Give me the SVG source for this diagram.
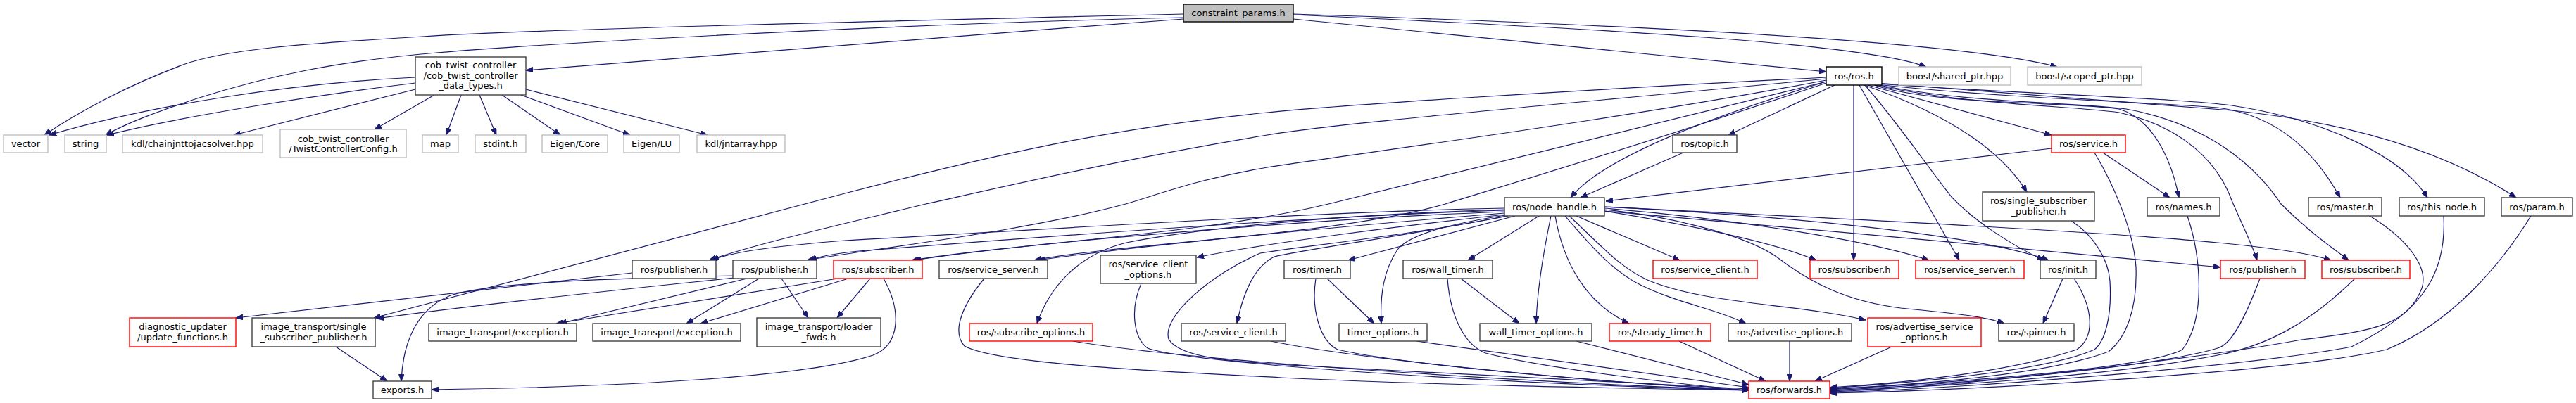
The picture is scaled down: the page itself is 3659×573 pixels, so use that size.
<svg xmlns="http://www.w3.org/2000/svg" width="3659" height="573" viewBox="0 0 3659 573">
<defs>
<marker id="ah" viewBox="0 0 10 8" refX="10" refY="4" markerWidth="10" markerHeight="8" markerUnits="userSpaceOnUse" orient="auto"><path d="M0,0L10,4L0,8z" fill="#191970" stroke="#191970" stroke-width="0.8"/></marker>
<style>
.n rect{fill:#fff;stroke:#404040;stroke-width:1.4}
.g rect{fill:#fff;stroke:#bfbfbf;stroke-width:1.4}
.r rect{fill:#fff;stroke:#ff0000;stroke-width:1.4}
.root rect{fill:#bfbfbf;stroke:#000;stroke-width:1.4}
text{font-family:"DejaVu Sans","Liberation Sans",sans-serif;font-size:13px;text-anchor:middle;fill:#000}
#edges path{fill:none;stroke:#191970;stroke-width:1.2;marker-end:url(#ah)}
</style>
</defs>
<rect width="3659" height="573" fill="#fff"/>
<g id="edges">
<path d="M1681,20 C1250,30 750,42 600,52 C430,62 320,70 260,92 C180,122 110,160 63,192"/>
<path d="M1681,25 C1300,33 800,60 620,75 C480,87 380,108 280,140 C220,160 180,175 150,192"/>
<path d="M1681,27 C1350,52 1000,78 747,100"/>
<path d="M1837,27 L2594,102"/>
<path d="M1837,21 C2300,42 2650,62 2736,95"/>
<path d="M1837,20 C2400,38 2800,62 2922,95"/>
<path d="M590,110 C420,118 220,148 70,192"/>
<path d="M590,118 C450,135 260,165 152,192"/>
<path d="M590,127 L332,192"/>
<path d="M617,135 L532,184"/>
<path d="M655,135 L634,192"/>
<path d="M681,135 L705,192"/>
<path d="M713,135 L796,192"/>
<path d="M740,135 L895,192"/>
<path d="M747,127 L1005,192"/>
<path d="M2606,121 L2455,192"/>
<path d="M2594,116 C2450,160 2280,220 2231,281"/>
<path d="M2653,121 L2914,192"/>
<path d="M2648,121 C2760,160 2840,210 2879,273"/>
<path d="M2633,121 L2633,370"/>
<path d="M2641,121 L2783,370"/>
<path d="M2649,121 C2700,180 2740,240 2772,280 C2800,310 2850,345 2903,370"/>
<path d="M2662,121 C2750,150 2950,145 3010,155 C3060,170 3085,230 3095,281"/>
<path d="M2663,121 C2800,150 2940,150 3010,160 C3100,180 3150,230 3170,285 C3185,320 3198,345 3206,370"/>
<path d="M2664,120 C2800,148 2950,145 3020,155 C3130,175 3200,230 3240,290 C3280,330 3310,350 3336,370"/>
<path d="M2665,120 C2850,140 3050,145 3150,153 C3240,165 3290,220 3324,281"/>
<path d="M2666,119 C2900,135 3100,140 3170,150 C3300,170 3410,220 3448,281"/>
<path d="M2667,118 C2950,140 3100,150 3170,157 C3350,175 3480,220 3574,281"/>
<path d="M2594,110 C2200,130 1900,150 1800,160 C1600,180 1450,210 1200,275 L531,452"/>
<path d="M2594,112 C2200,150 1900,175 1800,192 C1600,225 1450,260 1315,290 C1200,318 1080,345 1007,370"/>
<path d="M2594,114 C2300,170 1950,215 1800,238 C1700,255 1650,275 1599,290 C1450,330 1250,352 1146,370"/>
<path d="M2594,116 C2300,190 2000,262 1887,290 C1700,335 1450,345 1295,370"/>
<path d="M2594,118 C2350,200 2150,260 2053,290 C1900,335 1600,345 1469,370"/>
<path d="M2137,296 C1900,300 1500,325 1200,342 C1100,350 1040,358 1011,370"/>
<path d="M2137,299 C1900,306 1500,335 1220,357 C1190,360 1165,364 1150,370"/>
<path d="M2137,301 C1900,310 1500,340 1298,370"/>
<path d="M2137,303 C1950,318 1650,345 1474,370"/>
<path d="M2138,305 C2000,320 1800,345 1700,366"/>
<path d="M2138,298 C1900,305 1700,325 1600,345 C1530,362 1490,410 1473,460"/>
<path d="M2140,307 C2000,335 1850,355 1810,365 C1780,380 1765,420 1757,460"/>
<path d="M2142,307 C2000,335 1850,350 1790,360 C1720,390 1650,450 1660,482 C1675,510 1760,515 1850,520 C2100,532 2350,545 2484,553"/>
<path d="M2138,306 C2050,320 2000,335 1985,355 C1965,385 1960,420 1962,460"/>
<path d="M2152,307 L1915,370"/>
<path d="M2186,307 L2085,370"/>
<path d="M2203,307 C2192,360 2183,420 2182,460"/>
<path d="M2209,307 C2220,370 2250,430 2314,460"/>
<path d="M2239,307 L2386,370"/>
<path d="M2223,307 C2260,350 2290,385 2330,405 C2380,430 2440,440 2480,460"/>
<path d="M2229,307 C2270,345 2300,380 2340,398 C2420,432 2550,432 2650,455"/>
<path d="M2279,298 C2350,305 2480,330 2530,370 C2570,400 2620,428 2700,438 C2780,446 2820,450 2847,460"/>
<path d="M2279,300 C2400,320 2520,345 2580,370"/>
<path d="M2279,296 C2450,310 2650,340 2740,370"/>
<path d="M2279,294 C2500,305 2800,330 2910,370"/>
<path d="M2279,300 C2500,320 2900,355 3154,380"/>
<path d="M2279,294 C2600,310 3000,330 3150,345 C3230,353 3280,360 3311,370"/>
<path d="M1885,396 L1952,460"/>
<path d="M2075,396 L2158,460"/>
<path d="M2930,396 L2902,460"/>
<path d="M2914,211 L2281,286"/>
<path d="M2987,217 L3082,281"/>
<path d="M2391,217 L2245,281"/>
<path d="M898,388 L335,452"/>
<path d="M1061,396 L795,460"/>
<path d="M1078,396 L975,460"/>
<path d="M1110,396 L1148,452"/>
<path d="M1043,395 C900,410 700,430 535,453"/>
<path d="M1045,392 C900,395 700,400 640,420 C590,440 572,490 570,542"/>
<path d="M1190,396 L790,460"/>
<path d="M1205,396 L995,460"/>
<path d="M1236,396 L1189,452"/>
<path d="M1255,396 C1280,440 1280,490 1240,505 C1150,535 900,550 613,554"/>
<path d="M477,493 L550,542"/>
<path d="M1398,396 C1370,430 1350,470 1370,492 C1420,520 1700,530 1820,537 C2050,548 2300,552 2484,555"/>
<path d="M1524,485 C1700,515 2200,545 2484,555"/>
<path d="M1621,403 C1605,440 1610,480 1630,495 C1680,515 2100,545 2484,555"/>
<path d="M1805,485 C1900,505 2200,540 2484,555"/>
<path d="M1869,396 C1862,440 1875,485 1900,497 C2000,520 2300,545 2484,555"/>
<path d="M2056,396 C2060,450 2080,490 2110,502 C2200,525 2400,548 2484,555"/>
<path d="M2012,485 L2484,551"/>
<path d="M2239,485 L2484,547"/>
<path d="M2385,485 L2508,542"/>
<path d="M2542,485 L2542,542"/>
<path d="M2687,493 L2578,542"/>
<path d="M2946,396 C2975,440 2975,480 2950,497 C2850,530 2700,545 2599,551"/>
<path d="M2942,314 C2975,335 2995,370 2997,400 C3000,450 2990,485 2975,497 C2900,530 2700,545 2599,552"/>
<path d="M2975,217 C2995,250 3030,320 3034,380 C3036,440 3020,480 2995,500 C2900,535 2700,548 2599,553"/>
<path d="M3107,307 C3125,360 3135,450 3100,497 C3050,525 2750,545 2599,554"/>
<path d="M3210,396 C3190,450 3170,490 3150,495 C3050,525 2750,548 2599,555"/>
<path d="M3345,396 C3290,450 3230,490 3150,505 C3000,535 2750,550 2599,556"/>
<path d="M3366,307 C3420,340 3450,380 3440,410 C3420,460 3380,470 3269,483 C3150,505 2800,550 2599,557"/>
<path d="M3471,307 C3475,380 3450,440 3340,493 C3200,520 2800,552 2599,558"/>
<path d="M3595,307 C3550,380 3480,460 3390,497 C3250,530 2800,555 2599,559"/>
</g>
<g id="n_cp" class="root"><rect x="1681" y="6" width="156" height="25"/><text x="1759" y="23">constraint_params.h</text></g>
<g id="n_cob" class="n"><rect x="590" y="81" width="157" height="54"/><text x="668.5" y="97">cob_twist_controller</text><text x="668.5" y="111.5">/cob_twist_controller</text><text x="668.5" y="126">_data_types.h</text></g>
<g id="n_ros" class="n"><rect x="2594" y="95" width="79" height="26" style="stroke:#000"/><text x="2633.5" y="112.5">ros/ros.h</text></g>
<g id="n_shared" class="g"><rect x="2697" y="95" width="159" height="26"/><text x="2776.5" y="112.5">boost/shared_ptr.hpp</text></g>
<g id="n_scoped" class="g"><rect x="2880" y="95" width="162" height="26"/><text x="2961" y="112.5">boost/scoped_ptr.hpp</text></g>
<g id="n_vector" class="g"><rect x="5" y="192" width="63" height="25"/><text x="36.5" y="209">vector</text></g>
<g id="n_string" class="g"><rect x="92" y="192" width="59" height="25"/><text x="121.5" y="209">string</text></g>
<g id="n_kdlchain" class="g"><rect x="174" y="192" width="199" height="25"/><text x="273.5" y="209">kdl/chainjnttojacsolver.hpp</text></g>
<g id="n_twcfg" class="g"><rect x="398" y="184" width="179" height="40"/><text x="487.5" y="201.5">cob_twist_controller</text><text x="487.5" y="216">/TwistControllerConfig.h</text></g>
<g id="n_map" class="g"><rect x="600" y="192" width="51" height="25"/><text x="625.5" y="209">map</text></g>
<g id="n_stdint" class="g"><rect x="675" y="192" width="72" height="25"/><text x="711" y="209">stdint.h</text></g>
<g id="n_eigcore" class="g"><rect x="770" y="192" width="93" height="25"/><text x="816.5" y="209">Eigen/Core</text></g>
<g id="n_eiglu" class="g"><rect x="886" y="192" width="79" height="25"/><text x="925.5" y="209">Eigen/LU</text></g>
<g id="n_kdljnt" class="g"><rect x="990" y="192" width="125" height="25"/><text x="1052.5" y="209">kdl/jntarray.hpp</text></g>
<g id="n_topic" class="n"><rect x="2376" y="192" width="91" height="25"/><text x="2421.5" y="209">ros/topic.h</text></g>
<g id="n_service" class="r"><rect x="2914" y="192" width="105" height="25"/><text x="2966.5" y="209">ros/service.h</text></g>
<g id="n_nh" class="n"><rect x="2137" y="281" width="142" height="26"/><text x="2208" y="298.5">ros/node_handle.h</text></g>
<g id="n_ssp" class="n"><rect x="2816" y="273" width="159" height="41"/><text x="2895.5" y="290">ros/single_subscriber</text><text x="2895.5" y="305">_publisher.h</text></g>
<g id="n_names" class="n"><rect x="3050" y="281" width="103" height="26"/><text x="3101.5" y="298.5">ros/names.h</text></g>
<g id="n_master" class="n"><rect x="3279" y="281" width="104" height="26"/><text x="3331" y="298.5">ros/master.h</text></g>
<g id="n_thisnode" class="n"><rect x="3408" y="281" width="121" height="26"/><text x="3468.5" y="298.5">ros/this_node.h</text></g>
<g id="n_param" class="n"><rect x="3553" y="281" width="101" height="26"/><text x="3603.5" y="298.5">ros/param.h</text></g>
<g id="n_pub1" class="n"><rect x="898" y="370" width="119" height="26"/><text x="957.5" y="387.5">ros/publisher.h</text></g>
<g id="n_pub2" class="n"><rect x="1041" y="370" width="119" height="26"/><text x="1100.5" y="387.5">ros/publisher.h</text></g>
<g id="n_subR1" class="r"><rect x="1184" y="370" width="126" height="26"/><text x="1247" y="387.5">ros/subscriber.h</text></g>
<g id="n_ss1" class="n"><rect x="1334" y="370" width="154" height="26"/><text x="1411" y="387.5">ros/service_server.h</text></g>
<g id="n_sco" class="n"><rect x="1563" y="363" width="136" height="40"/><text x="1631" y="380">ros/service_client</text><text x="1631" y="394.5">_options.h</text></g>
<g id="n_timer" class="n"><rect x="1824" y="370" width="94" height="26"/><text x="1871" y="387.5">ros/timer.h</text></g>
<g id="n_wtimer" class="n"><rect x="1993" y="370" width="127" height="26"/><text x="2056.5" y="387.5">ros/wall_timer.h</text></g>
<g id="n_scR" class="r"><rect x="2348" y="370" width="148" height="26"/><text x="2422" y="387.5">ros/service_client.h</text></g>
<g id="n_subR2" class="r"><rect x="2571" y="370" width="126" height="26"/><text x="2634" y="387.5">ros/subscriber.h</text></g>
<g id="n_ssR" class="r"><rect x="2721" y="370" width="154" height="26"/><text x="2798" y="387.5">ros/service_server.h</text></g>
<g id="n_init" class="n"><rect x="2898" y="370" width="79" height="26"/><text x="2937.5" y="387.5">ros/init.h</text></g>
<g id="n_pubR" class="r"><rect x="3154" y="370" width="120" height="26"/><text x="3214" y="387.5">ros/publisher.h</text></g>
<g id="n_subR3" class="r"><rect x="3298" y="370" width="125" height="26"/><text x="3360.5" y="387.5">ros/subscriber.h</text></g>
<g id="n_diag" class="r"><rect x="184" y="452" width="151" height="41"/><text x="259.5" y="469">diagnostic_updater</text><text x="259.5" y="483.5">/update_functions.h</text></g>
<g id="n_imgssp" class="n"><rect x="358" y="452" width="175" height="41"/><text x="445.5" y="469">image_transport/single</text><text x="445.5" y="483.5">_subscriber_publisher.h</text></g>
<g id="n_exc1" class="n"><rect x="609" y="460" width="210" height="25"/><text x="714" y="477">image_transport/exception.h</text></g>
<g id="n_exc2" class="n"><rect x="842" y="460" width="210" height="25"/><text x="947" y="477">image_transport/exception.h</text></g>
<g id="n_loader" class="n"><rect x="1075" y="452" width="176" height="41"/><text x="1163" y="469">image_transport/loader</text><text x="1163" y="483.5">_fwds.h</text></g>
<g id="n_subopt" class="r"><rect x="1377" y="460" width="175" height="25"/><text x="1464.5" y="477">ros/subscribe_options.h</text></g>
<g id="n_sc" class="n"><rect x="1678" y="460" width="148" height="25"/><text x="1752" y="477">ros/service_client.h</text></g>
<g id="n_topt" class="n"><rect x="1902" y="460" width="125" height="25"/><text x="1964.5" y="477">timer_options.h</text></g>
<g id="n_wtopt" class="n"><rect x="2102" y="460" width="159" height="25"/><text x="2181.5" y="477">wall_timer_options.h</text></g>
<g id="n_steady" class="r"><rect x="2286" y="460" width="144" height="25"/><text x="2358" y="477">ros/steady_timer.h</text></g>
<g id="n_advopt" class="n"><rect x="2455" y="460" width="175" height="25"/><text x="2542.5" y="477">ros/advertise_options.h</text></g>
<g id="n_advsopt" class="r"><rect x="2653" y="452" width="161" height="41"/><text x="2733.5" y="469">ros/advertise_service</text><text x="2733.5" y="483.5">_options.h</text></g>
<g id="n_spinner" class="n"><rect x="2839" y="460" width="107" height="25"/><text x="2892.5" y="477">ros/spinner.h</text></g>
<g id="n_exports" class="n"><rect x="530" y="542" width="83" height="25"/><text x="571.5" y="559">exports.h</text></g>
<g id="n_fwd" class="r"><rect x="2484" y="542" width="115" height="25"/><text x="2541.5" y="559">ros/forwards.h</text></g>
</svg>
